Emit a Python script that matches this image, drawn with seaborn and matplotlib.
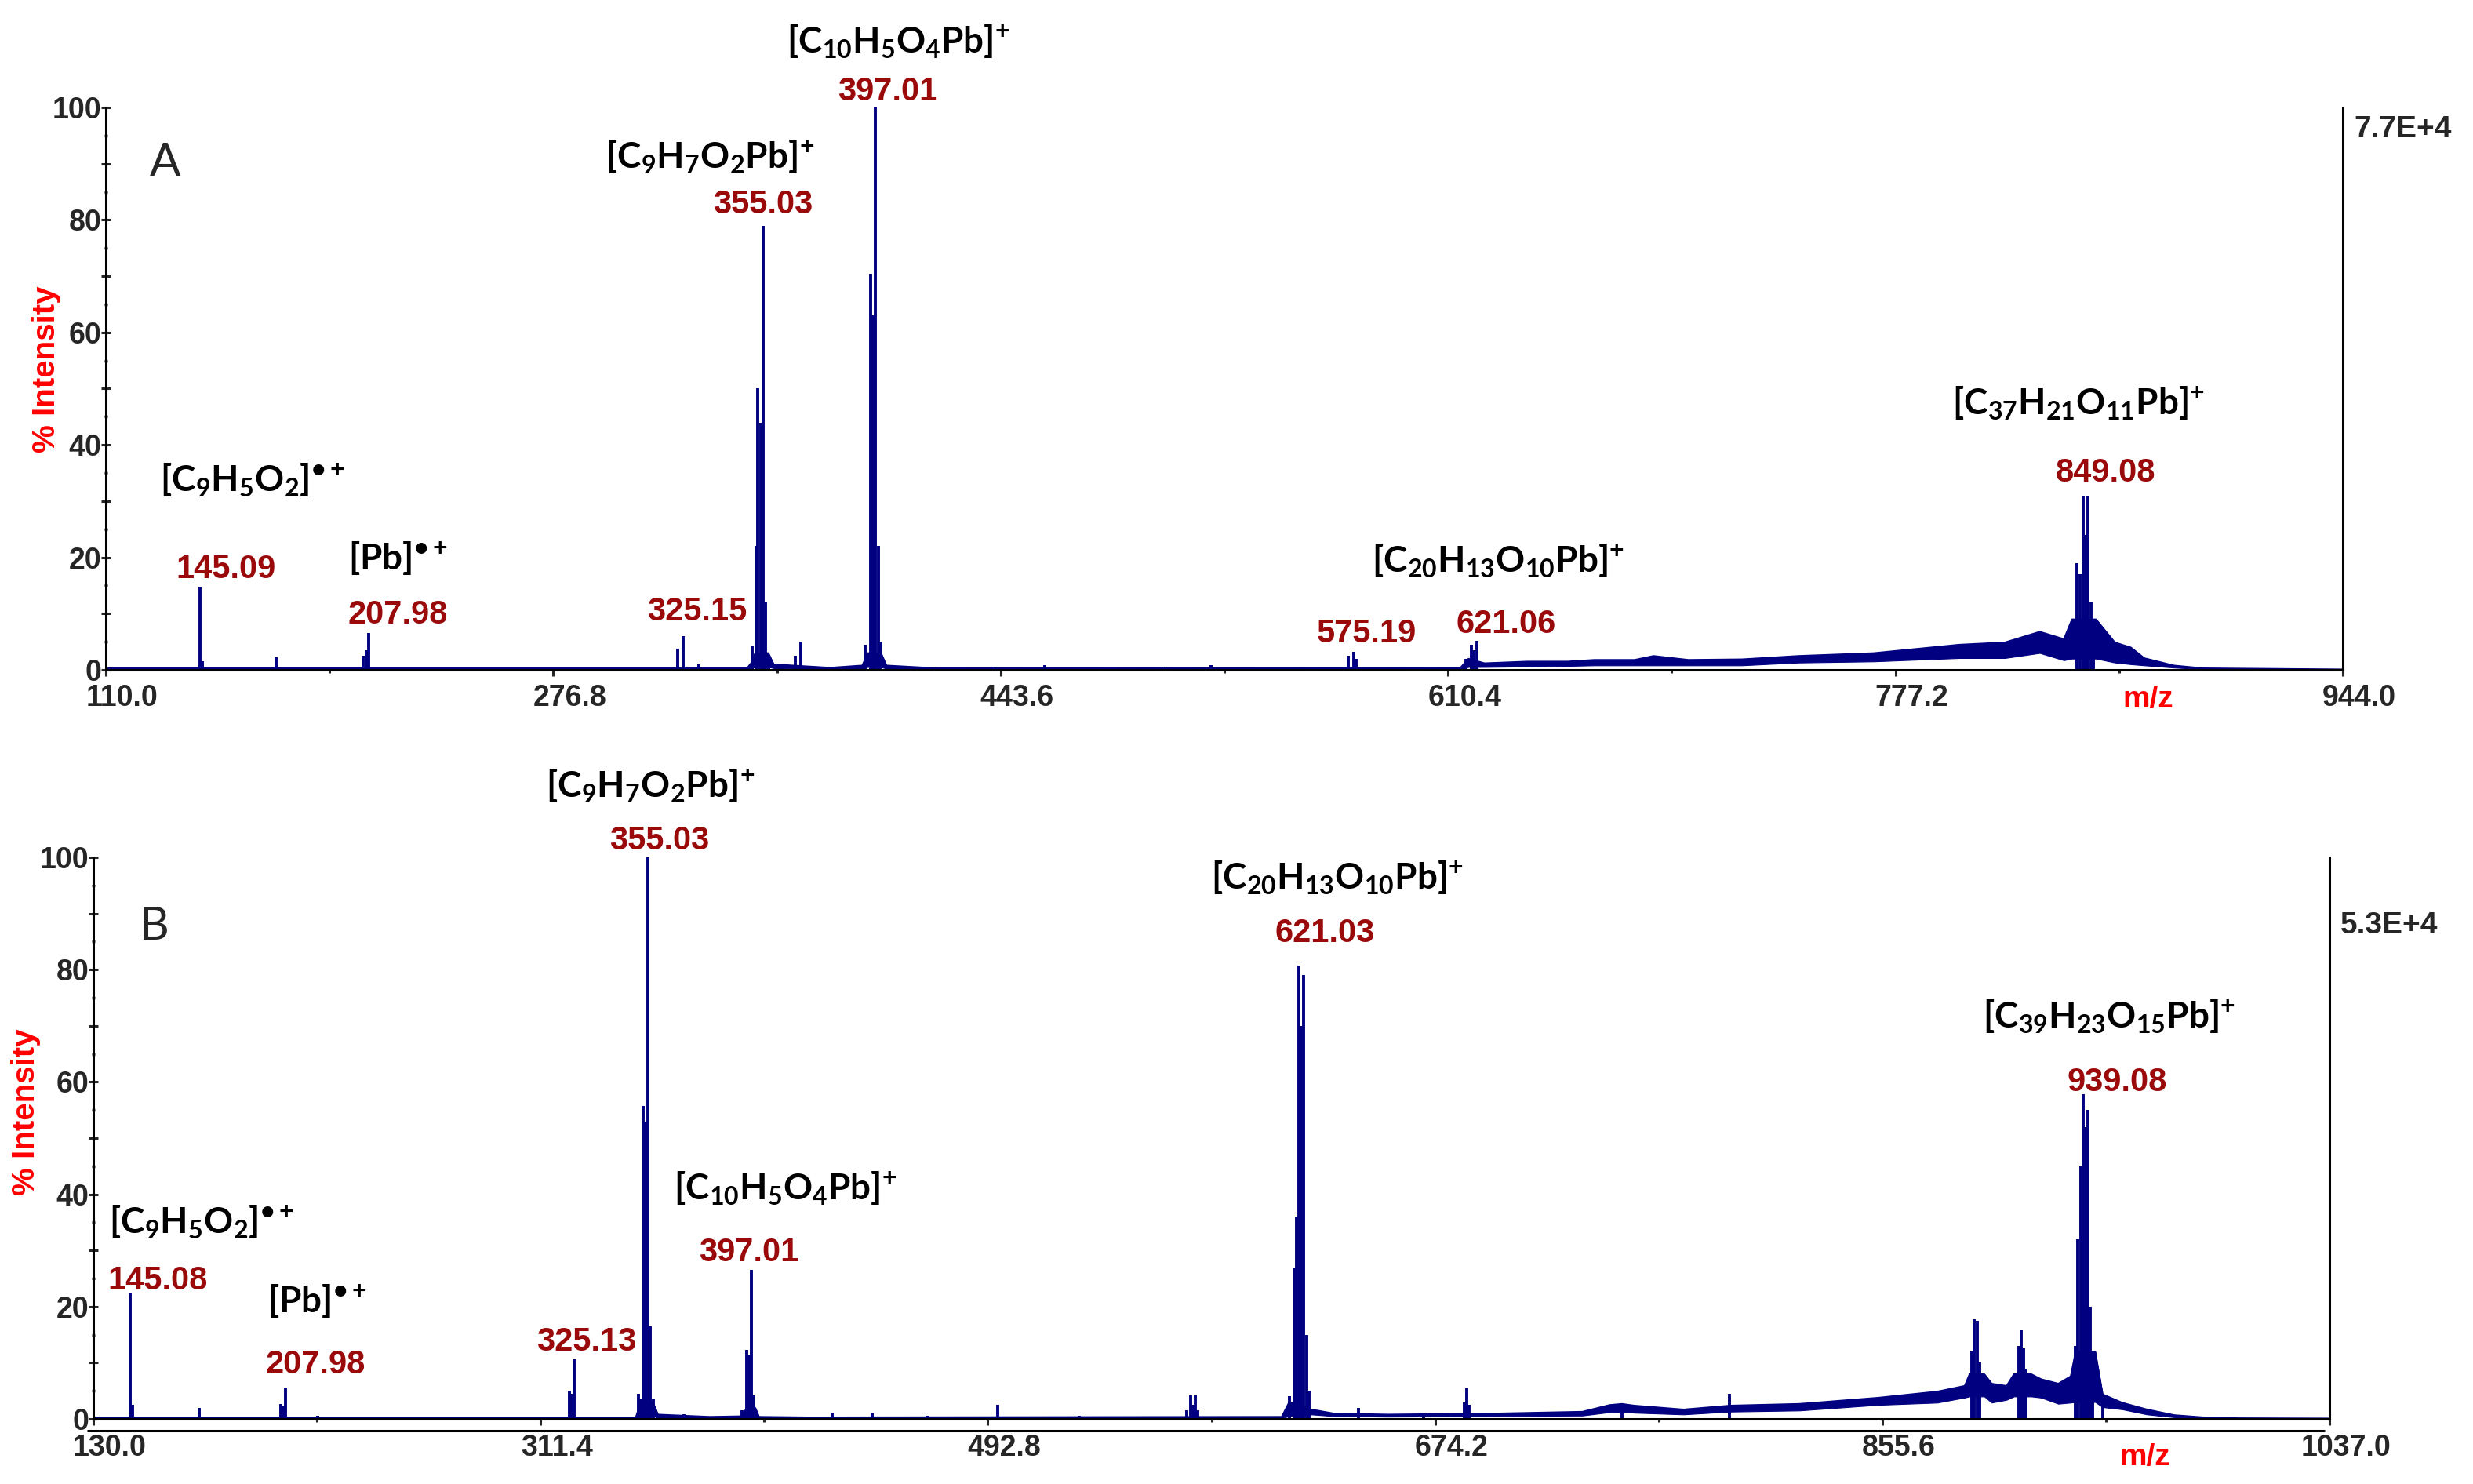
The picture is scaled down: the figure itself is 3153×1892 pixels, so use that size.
import numpy as np
import pandas as pd
import seaborn as sns
import matplotlib
matplotlib.use("Agg")
import matplotlib.pyplot as plt
from matplotlib.ticker import FixedLocator, MultipleLocator, FuncFormatter
from matplotlib.transforms import ScaledTranslation

# ---------------- data: panel A ----------------
a_xlim = (110.0, 944.0)
a_xticks = [110.0, 276.8, 443.6, 610.4, 777.2, 944.0]
a_peak_mz = [145.09, 146.1, 173.5, 205.98, 206.98, 207.98, 323.1, 325.15, 331.0,
             351.0, 352.5, 353.03, 354.03, 355.03, 356.0, 357.0, 367.0, 369.0,
             393.0, 395.0, 396.0, 397.01, 398.0, 399.0, 442.0, 460.0, 505.0, 522.0,
             573.3, 575.19, 576.2, 617.0, 619.0, 620.0, 621.06,
             845.0, 846.0, 847.08, 848.0, 849.08, 850.0, 851.0]
a_peak_int = [14.8, 1.5, 2.3, 2.5, 3.5, 6.5, 3.8, 6.0, 1.0,
              4.2, 22.0, 50.0, 44.0, 79.0, 12.0, 2.5, 2.5, 5.0,
              4.5, 70.5, 63.0, 100.0, 22.0, 5.0, 0.6, 0.8, 0.5, 0.8,
              2.5, 3.2, 2.0, 2.0, 4.5, 3.5, 5.2,
              19.0, 17.0, 31.0, 24.0, 31.0, 12.0, 6.0]
a_env_mz = [110, 349, 351, 352, 357, 359, 380, 392, 394, 399, 401, 420, 615, 618, 624,
            640, 655, 665, 680, 687, 700, 720, 741, 769, 801, 818, 831, 840, 843, 852,
            859, 865, 870, 881, 892, 944]
a_env_hi = [0.3, 0.3, 1.5, 3.0, 3.0, 1.0, 0.4, 0.8, 3.0, 3.0, 0.8, 0.3, 0.4, 2.0, 1.2,
            1.5, 1.5, 1.8, 1.8, 2.5, 1.8, 1.9, 2.5, 3.0, 4.5, 4.9, 6.8, 5.5, 9.0, 9.0,
            4.9, 4.0, 2.1, 0.8, 0.3, 0.1]
a_env_lo = [0.0, 0.0, 0.3, 0.5, 0.5, 0.3, 0.1, 0.2, 0.5, 0.5, 0.2, 0.1, 0.1, 0.5, 0.5,
            0.6, 0.7, 0.8, 0.8, 0.8, 0.8, 0.8, 1.3, 1.5, 2.1, 2.1, 3.0, 1.7, 2.0, 2.0,
            1.3, 1.0, 0.8, 0.4, 0.1, 0.0]
a_num_labels = ["145.09", "207.98", "325.15", "355.03", "397.01", "575.19", "621.06", "849.08"]
a_num_x = [154.7, 218.8, 330.5, 355.0, 401.5, 579.9, 631.9, 855.6]
a_num_y = [17.9, 9.8, 10.3, 82.7, 102.8, 6.4, 8.1, 35.0]
a_formulas = [r"$\mathrm{[C_{9}H_{5}O_{2}]^{•+}}$", r"$\mathrm{[Pb]^{•+}}$",
              r"$\mathrm{[C_{9}H_{7}O_{2}Pb]^{+}}$", r"$\mathrm{[C_{10}H_{5}O_{4}Pb]^{+}}$",
              r"$\mathrm{[C_{20}H_{13}O_{10}Pb]^{+}}$", r"$\mathrm{[C_{37}H_{21}O_{11}Pb]^{+}}$"]
a_form_x = [164.7, 218.8, 335.1, 405.6, 629.0, 845.4]
a_form_y = [33.6, 19.8, 91.1, 111.6, 19.2, 47.3]
a_scale = "7.7E+4"

# ---------------- data: panel B ----------------
b_xlim = (130.0, 1037.0)
b_xticks = [130.0, 311.4, 492.8, 674.2, 855.6, 1037.0]
b_peak_mz = [145.08, 146.0, 173.0, 206.0, 206.98, 207.98, 221.0, 323.0, 324.0, 325.13,
             351.0, 352.0, 353.03, 354.03, 355.03, 356.0, 357.0, 369.6,
             393.0, 395.0, 396.0, 397.01, 398.0, 399.0, 429.7, 445.8, 468.2, 496.8, 530.0,
             573.5, 575.0, 576.0, 577.0, 578.0,
             615.0, 617.0, 618.0, 619.0, 620.0, 621.03, 622.0, 623.0,
             643.3, 669.7, 686.0, 687.2, 688.0, 750.0, 793.6,
             892.0, 893.0, 894.0, 895.0, 911.0, 912.0, 913.0, 914.0,
             934.0, 935.0, 936.0, 937.0, 938.0, 939.08, 940.0, 941.0, 945.0]
b_peak_int = [22.3, 2.5, 2.0, 2.7, 2.4, 5.6, 0.6, 5.0, 4.5, 10.6,
              4.5, 3.5, 55.7, 53.0, 100.0, 16.5, 3.5, 0.8,
              1.5, 12.3, 11.5, 26.5, 4.2, 1.2, 1.0, 1.0, 0.6, 2.5, 0.6,
              1.5, 4.2, 2.5, 4.2, 1.5,
              4.0, 27.0, 36.0, 80.7, 70.0, 79.0, 15.0, 5.0,
              2.0, 0.9, 3.0, 5.5, 2.5, 2.6, 4.4,
              12.0, 17.8, 17.5, 10.0, 13.0, 15.8, 12.6, 9.0,
              13.0, 32.0, 45.0, 57.8, 52.0, 55.0, 20.0, 8.4, 4.4]
b_env_mz = [130, 350, 352, 357, 359, 380, 393, 395, 398.5, 400, 420, 612, 615, 624, 633,
            655, 700, 734, 745, 750, 755, 775, 794, 822, 854, 878, 889, 891, 897, 900,
            906, 909, 916, 920, 927, 932, 934, 942, 945, 953, 963, 974, 986, 1000, 1037]
b_env_hi = [0.3, 0.3, 3.0, 3.0, 0.8, 0.4, 0.5, 2.0, 2.0, 0.4, 0.3, 0.4, 3.0, 1.7, 1.0,
            0.8, 1.0, 1.3, 2.5, 2.7, 2.4, 1.7, 2.4, 2.7, 3.8, 4.9, 5.9, 8.0, 8.0, 6.3,
            5.9, 8.0, 8.0, 7.1, 6.3, 7.6, 12.0, 12.0, 4.4, 2.9, 1.7, 0.7, 0.3, 0.15, 0.1]
b_env_lo = [0.0, 0.0, 0.5, 0.5, 0.2, 0.1, 0.1, 0.4, 0.4, 0.1, 0.1, 0.1, 0.5, 0.8, 0.5,
            0.4, 0.5, 0.6, 1.2, 1.3, 1.1, 0.8, 1.3, 1.5, 2.5, 2.9, 3.8, 4.0, 4.0, 2.9,
            3.4, 4.0, 4.0, 3.8, 2.7, 2.9, 3.0, 3.0, 2.1, 1.7, 0.8, 0.3, 0.1, 0.05, 0.0]
b_num_labels = ["145.08", "207.98", "325.13", "355.03", "397.01", "621.03", "939.08"]
b_num_x = [156.1, 220.0, 330.1, 359.7, 396.0, 629.5, 950.9]
b_num_y = [24.6, 9.6, 13.7, 102.9, 29.6, 86.4, 59.9]
b_formulas = [r"$\mathrm{[C_{9}H_{5}O_{2}]^{•+}}$", r"$\mathrm{[Pb]^{•+}}$",
              r"$\mathrm{[C_{9}H_{7}O_{2}Pb]^{+}}$", r"$\mathrm{[C_{10}H_{5}O_{4}Pb]^{+}}$",
              r"$\mathrm{[C_{20}H_{13}O_{10}Pb]^{+}}$", r"$\mathrm{[C_{39}H_{23}O_{15}Pb]^{+}}$"]
b_form_x = [173.9, 220.7, 355.9, 410.6, 634.6, 947.7]
b_form_y = [34.9, 20.9, 112.5, 40.9, 96.2, 71.5]
b_scale = "5.3E+4"

yticks = [0, 10, 20, 30, 40, 50, 60, 70, 80, 90, 100]

# ---------------- style ----------------
sns.set_style("ticks")
plt.rcParams["font.family"] = ["Liberation Sans", "DejaVu Sans"]
plt.rcParams["mathtext.fontset"] = "custom"
plt.rcParams["mathtext.rm"] = "Lato:bold"
plt.rcParams["mathtext.it"] = "Lato:italic:bold"
plt.rcParams["mathtext.bf"] = "Lato:bold"
plt.rcParams["mathtext.fallback"] = "stixsans"

NAVY = "#000080"
DARKRED = "#9B0A0A"
RED = "#FF0000"

fig = plt.figure(figsize=(31.53, 18.92), dpi=100)
ax_a = fig.add_axes([135 / 3153, 1 - 854 / 1892, 2852 / 3153, 717 / 1892])
ax_b = fig.add_axes([119 / 3153, 1 - 1809 / 1892, 2851 / 3153, 716 / 1892])


def draw_panel(ax, xlim, xticks, pmz, pint, emz, ehi, elo, nlab, nx, ny,
               forms, fx, fy, scale_txt, letter, letter_xy, ylab_xy, mz_xy, scale_y, xpad):
    env = pd.DataFrame({"mz": emz, "hi": ehi, "lo": elo})
    ax.fill_between(env["mz"], env["lo"], env["hi"], color=NAVY, lw=0.8)
    sns.lineplot(data=env, x="mz", y="hi", ax=ax, color=NAVY, lw=1.2, sort=True)
    ax.vlines(pmz, 0, pint, colors=NAVY, lw=2.8)

    ax.set_xlim(*xlim)
    ax.set_ylim(0, 100)
    ax.spines["top"].set_visible(False)
    for s in ["left", "bottom", "right"]:
        ax.spines[s].set_linewidth(2.2)
        ax.spines[s].set_color("black")

    ax.xaxis.set_major_locator(FixedLocator(xticks))
    mids = [(xticks[i] + xticks[i + 1]) / 2 for i in range(len(xticks) - 1)]
    ax.xaxis.set_minor_locator(FixedLocator(mids))
    ax.xaxis.set_major_formatter(FuncFormatter(lambda v, p: f"{v:.1f}"))
    ax.yaxis.set_major_locator(FixedLocator(yticks))
    ax.yaxis.set_minor_locator(MultipleLocator(5))
    ax.yaxis.set_major_formatter(
        FuncFormatter(lambda v, p: f"{int(round(v))}" if int(round(v)) % 20 == 0 else ""))
    ax.tick_params(axis="x", which="major", direction="out", length=6, width=2.2,
                   labelsize=27, pad=xpad)
    ax.tick_params(axis="x", which="minor", direction="out", length=3, width=2.2)
    ax.tick_params(axis="y", which="major", direction="inout", length=8, width=2.2,
                   labelsize=27, pad=0)
    ax.tick_params(axis="y", which="minor", direction="inout", length=3, width=2.2)
    for lbl in ax.get_xticklabels() + ax.get_yticklabels():
        lbl.set_fontweight("bold")
    for lbl in ax.get_xticklabels():
        lbl.set_transform(lbl.get_transform() + ScaledTranslation(0.21, 0, fig.dpi_scale_trans))

    ax.set_ylabel("% Intensity", color=RED, fontsize=29, fontweight="bold")
    ax.yaxis.set_label_coords(*ylab_xy)
    ax.set_xlabel("m/z", color=RED, fontsize=28, fontweight="bold")
    ax.xaxis.set_label_coords(*mz_xy)

    for t, x, y in zip(nlab, nx, ny):
        ax.text(x, y, t, color=DARKRED, fontsize=30, fontweight="bold",
                ha="center", va="center", clip_on=False)
    for t, x, y in zip(forms, fx, fy):
        ax.text(x, y, t, color="black", fontsize=33, ha="center", va="center",
                clip_on=False)
    ax.text(letter_xy[0], letter_xy[1], letter, fontsize=42, family="Lato",
            ha="center", va="center")
    ax.text(1.005, scale_y, scale_txt, transform=ax.transAxes, fontsize=28,
            fontweight="bold", ha="left", va="center")


draw_panel(ax_a, a_xlim, a_xticks, a_peak_mz, a_peak_int, a_env_mz, a_env_hi, a_env_lo,
           a_num_labels, a_num_x, a_num_y, a_formulas, a_form_x, a_form_y, a_scale,
           "A", (132.2, 90.2), (-0.020, 0.535), (0.913, -0.028), 0.961, 7)
draw_panel(ax_b, b_xlim, b_xticks, b_peak_mz, b_peak_int, b_env_mz, b_env_hi, b_env_lo,
           b_num_labels, b_num_x, b_num_y, b_formulas, b_form_x, b_form_y, b_scale,
           "B", (154.8, 87.6), (-0.0235, 0.546), (0.9176, -0.043), 0.878, 8)

# extra baseline rule under panel B's axis
ax_b.plot([-0.0025, 0.9975], [-0.021, -0.021], transform=ax_b.transAxes,
          color="black", lw=2.2, clip_on=False)

fig.savefig("out.png", dpi=100, facecolor="white")
